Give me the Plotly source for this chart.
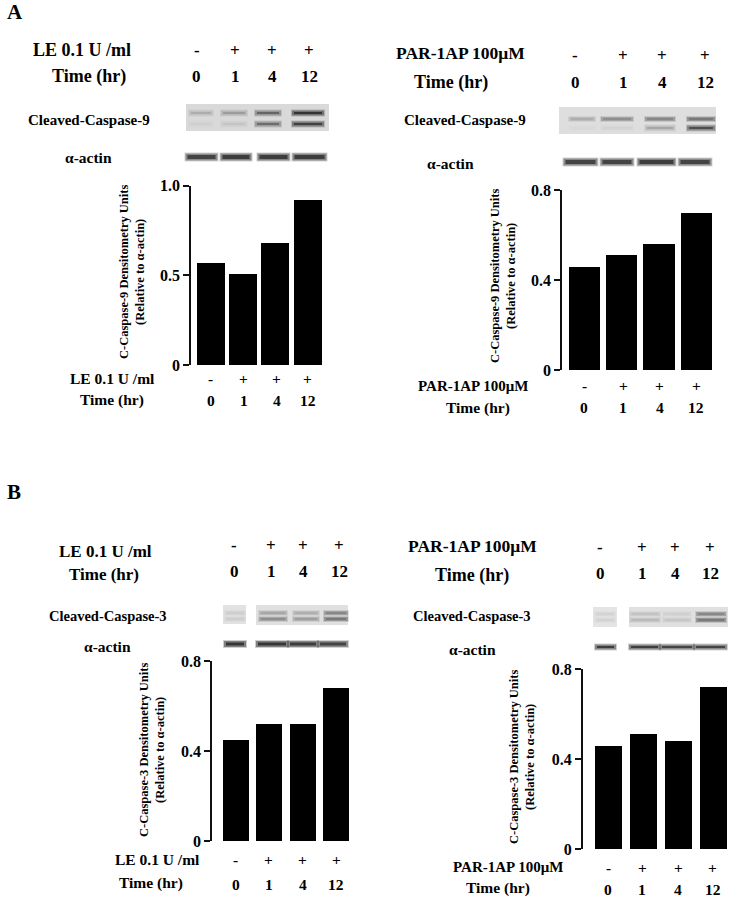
import plotly.graph_objects as go

W, H = 729, 899

# ---------------- data ----------------
lane_signs = ["-", "+", "+", "+"]
time_labels = ["0", "1", "4", "12"]

casp9_LE = [0.57, 0.51, 0.68, 0.92]
casp9_PAR = [0.46, 0.51, 0.56, 0.70]
casp3_LE = [0.45, 0.52, 0.52, 0.68]
casp3_PAR = [0.46, 0.51, 0.48, 0.72]

ticks_A_left = [0, 0.5, 1.0]
ticktext_A_left = ["0", "0.5", "1.0"]
ticks_08 = [0, 0.4, 0.8]
ticktext_08 = ["0", "0.4", "0.8"]

# band intensities read from the blots (0 = none, 1 = black)
casp9_LE_upper = [0.18, 0.25, 0.55, 0.9]
casp9_LE_lower = [0.03, 0.08, 0.5, 0.8]
actin_LE_A = [0.85, 0.9, 0.9, 0.9]
casp9_PAR_upper = [0.25, 0.45, 0.5, 0.6]
casp9_PAR_lower = [0.02, 0.04, 0.22, 0.7]
actin_PAR_A = [0.85, 0.85, 0.9, 0.85]
casp3_LE_upper = [0.1, 0.3, 0.25, 0.5]
casp3_LE_lower = [0.1, 0.45, 0.35, 0.6]
actin_LE_B = [0.95, 0.95, 0.9, 0.85]
casp3_PAR_upper = [0.08, 0.15, 0.08, 0.5]
casp3_PAR_lower = [0.08, 0.2, 0.12, 0.6]
actin_PAR_B = [0.9, 0.9, 0.85, 0.85]

FONT = "Liberation Serif"


def px(x):
    return x / W


def py(y):
    return 1 - y / H


fig = go.Figure()
annotations = []
shapes = []


def text(x, y, s, size, xanchor="center", angle=0):
    annotations.append(dict(
        x=px(x), y=py(y), xref="paper", yref="paper", text=s, showarrow=False,
        xanchor=xanchor, yanchor="middle", textangle=angle,
        font=dict(family=FONT, size=size, color="black", weight="bold"),
    ))


# ---------------- bar charts ----------------
charts = [
    dict(vals=casp9_LE, axis=191, c0=211, sp=32.2, y0=365, ytop=185.7, ymax=1.0,
         ticks=ticks_A_left, tt=ticktext_A_left, right=326, bw=0.87),
    dict(vals=casp9_PAR, axis=562, c0=584.3, sp=37.3, y0=370, ytop=190, ymax=0.8,
         ticks=ticks_08, tt=ticktext_08, right=716, bw=0.84),
    dict(vals=casp3_LE, axis=212, c0=235.7, sp=33.5, y0=841, ytop=661, ymax=0.8,
         ticks=ticks_08, tt=ticktext_08, right=351, bw=0.78),
    dict(vals=casp3_PAR, axis=582.7, c0=608.3, sp=34.9, y0=849.3, ytop=669.3, ymax=0.8,
         ticks=ticks_08, tt=ticktext_08, right=729, bw=0.78),
]

for i, c in enumerate(charts):
    n = "" if i == 0 else str(i + 1)
    fig.add_trace(go.Bar(
        x=list(range(len(c["vals"]))), y=c["vals"], width=c["bw"],
        marker=dict(color="black", line=dict(width=0)),
        xaxis="x" + n, yaxis="y" + n, showlegend=False, hoverinfo="skip",
    ))
    xl = -(c["c0"] - c["axis"]) / c["sp"]
    xr = (c["right"] - c["c0"]) / c["sp"]
    fig.layout["xaxis" + n] = dict(
        domain=[px(c["axis"]), px(c["right"])], range=[xl, xr],
        visible=False, anchor="y" + n, fixedrange=True,
    )
    fig.layout["yaxis" + n] = dict(
        domain=[py(c["y0"]), py(c["ytop"])], range=[0, c["ymax"]],
        anchor="x" + n, showline=True, linecolor="#111", linewidth=1.5,
        ticks="outside", ticklen=6, tickwidth=1.5, tickcolor="#111",
        tickvals=c["ticks"], ticktext=c["tt"], showgrid=False, zeroline=False,
        tickfont=dict(family=FONT, size=16, color="black", weight="bold"),
        fixedrange=True,
    )

# ---------------- panel letters ----------------
text(5, 12, "A", 21, xanchor="left")
text(5, 492, "B", 21, xanchor="left")

# ---------------- header labels ----------------
# A left
text(82, 50, "LE 0.1 U /ml", 18)
text(89, 76, "Time (hr)", 18)
for xx, s, t in zip([197, 235, 272, 309], lane_signs, time_labels):
    text(xx, 50, s, 17)
    text(xx, 77, t, 17)
text(89, 120, "Cleaved-Caspase-9", 15)
text(88, 157, "α-actin", 15.5)

# A right
text(460, 53, "PAR-1AP 100μM", 17.5)
text(451, 83, "Time (hr)", 18)
for xx, s, t in zip([575, 623, 662, 705], lane_signs, time_labels):
    text(xx, 56, s, 17)
    text(xx, 83, t, 17)
text(465, 120, "Cleaved-Caspase-9", 15)
text(450, 163, "α-actin", 15.5)

# B left
text(105, 551, "LE 0.1 U /ml", 17)
text(104, 574, "Time (hr)", 17)
for xx, s, t in zip([234, 271, 303, 339], lane_signs, time_labels):
    text(xx, 545, s, 17)
    text(xx, 571, t, 17)
text(108, 616, "Cleaved-Caspase-3", 14.5)
text(107, 646, "α-actin", 15.5)

# B right
text(472, 546, "PAR-1AP 100μM", 17.5)
text(472, 575, "Time (hr)", 18)
for xx, s, t in zip([600, 642, 675, 710], lane_signs, time_labels):
    text(xx, 547, s, 17)
    text(xx, 573, t, 17)
text(472, 616, "Cleaved-Caspase-3", 14.5)
text(472, 649, "α-actin", 15.5)

# ---------------- y-axis titles ----------------
ytitle9 = "C-Caspase-9 Densitometry Units<br>(Relative to α-actin)"
ytitle3 = "C-Caspase-3 Densitometry Units<br>(Relative to α-actin)"
text(132, 272, ytitle9, 12.5, angle=-90)
text(503, 276, ytitle9, 12.5, angle=-90)
text(152, 750, ytitle3, 12.5, angle=-90)
text(522, 757, ytitle3, 12.5, angle=-90)

# ---------------- under-chart labels ----------------
under = [
    dict(lab="LE 0.1 U /ml", lx=112, ly=378, tx=112, ty=400, sy=378, ny=400,
         xs=[211, 243.5, 276.5, 307.5], ls=15.5),
    dict(lab="PAR-1AP 100μM", lx=473, ly=386, tx=478, ty=408, sy=386, ny=408,
         xs=[584.3, 623, 659.7, 696.2], ls=15),
    dict(lab="LE 0.1 U /ml", lx=157, ly=859, tx=151, ty=883, sy=859, ny=884,
         xs=[235.7, 268.9, 302.9, 336.2], ls=15.5),
    dict(lab="PAR-1AP 100μM", lx=508, ly=867, tx=498, ty=888, sy=867, ny=889,
         xs=[608.3, 642.3, 678.2, 712.9], ls=15),
]
for u in under:
    text(u["lx"], u["ly"], u["lab"], u["ls"])
    text(u["tx"], u["ty"], "Time (hr)", 15.5)
    for xx, s, t in zip(u["xs"], lane_signs, time_labels):
        text(xx, u["sy"], s, 15.5)
        text(xx, u["ny"], t, 15.5)


# ---------------- blots ----------------
def rect(x0, x1, y0, y1, color, opacity=1.0):
    shapes.append(dict(type="rect", xref="paper", yref="paper",
                       x0=px(x0), x1=px(x1), y0=py(y1), y1=py(y0),
                       fillcolor=color, opacity=opacity, line=dict(width=0),
                       layer="above"))


def band(cx, w, cy, h, a):
    if a <= 0:
        return
    # soft edges via layered translucent rectangles
    rect(cx - w / 2 - 1, cx + w / 2 + 1, cy - h / 2 - 2, cy + h / 2 + 2, "black", 0.2 * a)
    rect(cx - w / 2, cx + w / 2, cy - h / 2 - 1, cy + h / 2 + 1, "black", 0.4 * a)
    rect(cx - w / 2 + 2, cx + w / 2 - 2, cy - h / 2 + 0.5, cy + h / 2 - 0.5, "black", 0.6 * a)


# A left blot
rect(186, 329, 104, 131, "#d9d9d9")
for cx, w, a1, a2 in zip([201, 234, 268, 308], [24, 26, 26, 32], casp9_LE_upper, casp9_LE_lower):
    band(cx, w, 113, 3, a1)
    band(cx, w, 124, 3, a2)
for cx, w, a in zip([201.5, 236, 273.5, 309.5], [32, 31, 32, 34], actin_LE_A):
    band(cx, w, 157, 5, a)

# A right blot
rect(559, 716, 107, 134, "#dedede")
for cx, w, a1, a2 in zip([582, 617, 660, 701], [26, 32, 30, 28], casp9_PAR_upper, casp9_PAR_lower):
    band(cx, w, 119, 2, a1)
    band(cx, w, 128, 3, a2)
for cx, w, a in zip([580.5, 617, 656.5, 695], [34, 33, 38, 33], actin_PAR_A):
    band(cx, w, 162, 5, a)

# B left blot
rect(223, 246, 605, 624, "#e2e2e2")
rect(256, 348, 605, 625, "#e0e0e0")
for cx, w, a1, a2 in zip([235, 273, 306, 336], [20, 28, 26, 24], casp3_LE_upper, casp3_LE_lower):
    band(cx, w, 613, 2, a1)
    band(cx, w, 619, 2, a2)
for cx, w, a in zip([235, 272, 303, 333], [22, 32, 30, 30], actin_LE_B):
    band(cx, w, 644, 4, a)

# B right blot
rect(593, 617, 607, 627, "#e4e4e4")
rect(629, 728, 607, 627, "#e0e0e0")
for cx, w, a1, a2 in zip([605, 645, 677, 711], [20, 30, 28, 30], casp3_PAR_upper, casp3_PAR_lower):
    band(cx, w, 614, 2, a1)
    band(cx, w, 620, 2, a2)
for cx, w, a in zip([605.5, 644.5, 677, 710.5], [21, 31, 34, 33], actin_PAR_B):
    band(cx, w, 647, 3, a)

fig.update_layout(
    width=W, height=H, autosize=False,
    margin=dict(l=0, r=0, t=0, b=0, autoexpand=False),
    paper_bgcolor="white", plot_bgcolor="rgba(0,0,0,0)",
    annotations=annotations, shapes=shapes, bargap=0,
    font=dict(family=FONT, color="black"),
)

fig.write_html(
    "out.html",
    config={"displayModeBar": False},
    post_script=(
        "document.documentElement.style.margin='0';"
        "document.documentElement.style.overflow='hidden';"
        "document.body.style.margin='0';document.body.style.overflow='hidden';"
    ),
)
